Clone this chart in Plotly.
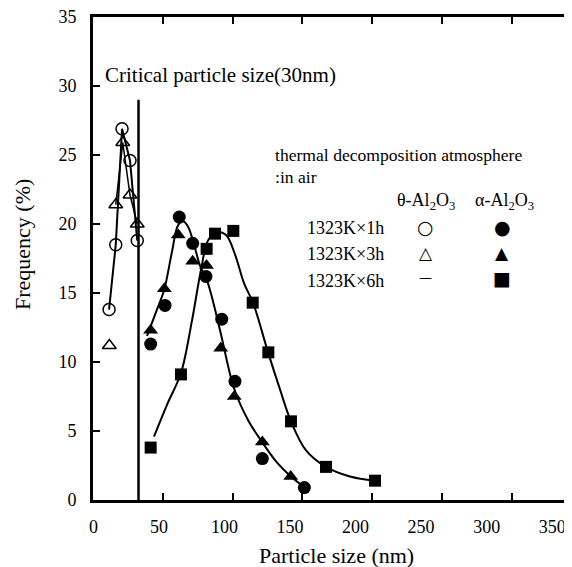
import plotly.graph_objects as go

# ---- data ----
theta_1h_x = [11.5, 16.3, 20.8, 26.5, 31.7]
theta_1h_y = [13.8, 18.5, 26.9, 24.6, 18.8]
theta_3h_x = [11.7, 16.3, 21.3, 26.5, 31.7]
theta_3h_y = [11.2, 21.4, 25.9, 22.1, 20.0]

alpha_1h_x = [41.3, 51.6, 61.8, 71.4, 80.9, 92.2, 101.7, 121.3, 151.4]
alpha_1h_y = [11.3, 14.1, 20.5, 18.6, 16.2, 13.1, 8.6, 3.0, 0.9]
alpha_3h_x = [41.3, 51.1, 61.1, 71.4, 81.3, 91.5, 101.2, 121.3, 141.6]
alpha_3h_y = [12.3, 15.3, 19.2, 17.3, 17.0, 11.0, 7.5, 4.2, 1.7]
alpha_6h_x = [41.3, 63.0, 81.4, 87.4, 100.5, 114.4, 125.6, 141.8, 166.9, 202.0]
alpha_6h_y = [3.8, 9.1, 18.2, 19.3, 19.5, 14.3, 10.7, 5.7, 2.4, 1.4]

# fitted curves as drawn in the figure
fit_a_x = [38.7, 45.8, 50.9, 56.6, 60.9, 64.5, 68.1, 72.4, 76.6, 81.7, 86.7, 91.7, 101.0, 111.0, 121.1, 131.1, 141.8, 149.0]
fit_a_y = [11.9, 13.8, 15.2, 18.0, 19.9, 20.2, 19.8, 18.5, 17.0, 15.9, 14.1, 12.0, 8.1, 5.8, 4.2, 2.8, 1.7, 1.1]
fit_b_x = [43.7, 53.0, 63.0, 70.9, 77.4, 82.4, 88.8, 95.3, 101.7, 108.2, 114.6, 125.4, 134.0, 141.8, 152.6, 166.9, 184.1, 202.0]
fit_b_y = [4.6, 6.9, 9.2, 13.0, 16.7, 18.8, 19.4, 19.2, 17.8, 15.7, 14.3, 10.7, 8.0, 5.7, 3.6, 2.4, 1.7, 1.4]

critical_size = 32.6
critical_top = 29.0

x_ticks = [0, 50, 100, 150, 200, 250, 300, 350]
y_ticks = [0, 5, 10, 15, 20, 25, 30, 35]

SERIF = "Liberation Serif"
SYM = "DejaVu Sans"

fig = go.Figure()

line_style = dict(color="black", width=2)
fig.add_trace(go.Scatter(x=theta_1h_x, y=theta_1h_y, mode="lines", line=line_style, showlegend=False, hoverinfo="skip"))
fig.add_trace(go.Scatter(x=theta_3h_x[1:], y=theta_3h_y[1:], mode="lines", line=dict(color="black", width=1.5), showlegend=False, hoverinfo="skip"))
fig.add_trace(go.Scatter(x=fit_a_x, y=fit_a_y, mode="lines", line=dict(color="black", width=2, shape="spline"), showlegend=False, hoverinfo="skip"))
fig.add_trace(go.Scatter(x=fit_b_x, y=fit_b_y, mode="lines", line=dict(color="black", width=2, shape="spline"), showlegend=False, hoverinfo="skip"))

fig.add_trace(go.Scatter(x=theta_1h_x, y=theta_1h_y, mode="markers", name="θ 1323K×1h",
                         marker=dict(symbol="circle-open", size=12, color="black", line=dict(width=1.5)), showlegend=False))
fig.add_trace(go.Scatter(x=theta_3h_x, y=theta_3h_y, mode="markers", name="θ 1323K×3h",
                         marker=dict(symbol="triangle-up-open", size=12, color="black", line=dict(width=1.5)), showlegend=False))
fig.add_trace(go.Scatter(x=alpha_1h_x, y=alpha_1h_y, mode="markers", name="α 1323K×1h",
                         marker=dict(symbol="circle", size=13, color="black"), showlegend=False))
fig.add_trace(go.Scatter(x=alpha_3h_x, y=alpha_3h_y, mode="markers", name="α 1323K×3h",
                         marker=dict(symbol="triangle-up", size=13, color="black"), showlegend=False))
fig.add_trace(go.Scatter(x=alpha_6h_x, y=alpha_6h_y, mode="markers", name="α 1323K×6h",
                         marker=dict(symbol="square", size=12, color="black"), showlegend=False))

# overlay axis that only carries the bottom tick labels (as printed)
fig.add_trace(go.Scatter(x=[None], y=[None], xaxis="x2", showlegend=False, hoverinfo="skip"))

fig.add_shape(type="line", x0=critical_size, x1=critical_size, y0=0, y1=critical_top,
              line=dict(color="black", width=2.5))

ann = []
def txt(x, y, text, size=18, xanchor="left", font=SERIF):
    ann.append(dict(x=x, y=y, xref="x", yref="y", text=text, showarrow=False,
                    xanchor=xanchor, yanchor="middle", font=dict(family=font, size=size, color="black")))

txt(7.2, 30.8, "Critical particle size(30nm)", size=21)
txt(129.0, 25.0, "thermal decomposition atmosphere", size=17.6)
txt(129.0, 23.4, ":in air", size=17.6)
txt(238.5, 21.6, "θ-Al<sub>2</sub>O<sub>3</sub>", size=18, xanchor="center")
txt(295.0, 21.6, "α-Al<sub>2</sub>O<sub>3</sub>", size=18, xanchor="center")
txt(151.9, 19.7, "1323K×1h", size=18)
txt(151.9, 17.8, "1323K×3h", size=18)
txt(151.9, 15.9, "1323K×6h", size=18)
txt(238.5, 19.8, "○", size=19, xanchor="center", font=SYM)
txt(238.5, 17.9, "△", size=17, xanchor="center", font=SYM)
txt(238.5, 16.1, "—", size=13, xanchor="center", font=SYM)
txt(293.0, 19.8, "●", size=19, xanchor="center", font=SYM)
txt(293.0, 17.9, "▲", size=17, xanchor="center", font=SYM)
txt(293.0, 16.1, "■", size=19, xanchor="center", font=SYM)

ann.append(dict(x=0.509, y=-0.114, xref="paper", yref="paper", text="Particle size (nm)", showarrow=False,
                xanchor="center", yanchor="middle", font=dict(family=SERIF, size=22, color="black")))
ann.append(dict(x=-0.146, y=0.528, xref="paper", yref="paper", text="Frequency (%)", showarrow=False, textangle=-90,
                xanchor="center", yanchor="middle", font=dict(family=SERIF, size=22, color="black")))

# the page body has an 8px margin, so the figure is sized/offset to compensate
fig.update_layout(
    width=564, height=559,
    margin=dict(l=85, r=0, t=9, b=67),
    paper_bgcolor="white", plot_bgcolor="white",
    annotations=ann,
    xaxis=dict(range=[0, 343.1], tickvals=x_ticks, showticklabels=False, ticks="inside", ticklen=7,
               tickwidth=1.5, tickcolor="black", showline=True, linecolor="black", linewidth=3,
               mirror="ticks", showgrid=False, zeroline=False),
    xaxis2=dict(overlaying="x", anchor="y", side="bottom", range=[-0.3, 365.1], tickvals=x_ticks,
                ticktext=[str(v) for v in x_ticks], ticks="", showline=False, showgrid=False, zeroline=False,
                tickfont=dict(family=SERIF, size=18, color="black"), ticklabelstandoff=14,
                ticklabeloverflow="allow"),
    yaxis=dict(range=[0, 35], tickvals=y_ticks, ticks="inside", ticklen=7, tickwidth=1.5, tickcolor="black",
               showline=True, linecolor="black", linewidth=3, showgrid=False, zeroline=False,
               tickfont=dict(family=SERIF, size=18, color="black"), ticklabelstandoff=10,
               ticklabeloverflow="allow"),
)

fig.write_html("out.html")
